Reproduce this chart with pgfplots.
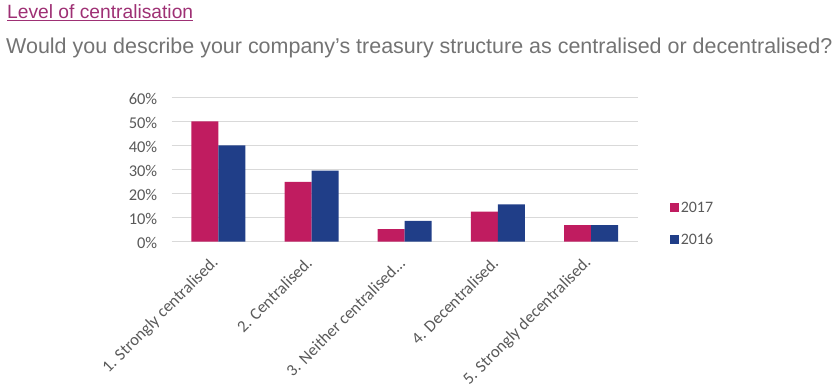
\documentclass[border=0pt]{standalone}
\usepackage{pgfplots}
\pgfplotsset{compat=1.18}
\usepackage{fontspec}
\setmainfont{Liberation Sans}
\newfontfamily\calib{Carlito}
\definecolor{pinkbar}{RGB}{192,28,96}
\definecolor{bluebar}{RGB}{32,62,136}
\definecolor{titlepink}{RGB}{158,48,116}
\definecolor{titlegray}{RGB}{115,115,115}
\definecolor{ticklab}{RGB}{89,89,89}
\definecolor{gridc}{RGB}{217,217,217}
\newcommand\neitherlab{3. Neither centralised...}
\begin{document}
\begin{tikzpicture}[x=1bp,y=1bp]
\path[use as bounding box] (0,0) rectangle (838,-391);
\node[anchor=base west, inner sep=0, text=titlepink, font=\fontsize{19.3}{22}\selectfont] at (7,-18.5) {\underline{Level of centralisation}};
\node[anchor=base west, inner sep=0, text=titlegray, font=\fontsize{21.55}{24}\selectfont] at (6,-53.3) {Would you describe your company’s treasury structure as centralised or decentralised?};
\begin{axis}[
  at={(171.7bp,-241.7bp)}, anchor=south west,
  scale only axis, width=466bp, height=144.4bp,
  ybar=0pt, bar width=27bp,
  xmin=-0.5, xmax=4.5, ymin=0, ymax=60,
  xtick={0,1,2,3,4},
  xticklabels={1. Strongly centralised.,2. Centralised.,\neitherlab,4. Decentralised.,5. Strongly decentralised.},
  ytick={0,10,20,30,40,50,60},
  yticklabel={\pgfmathprintnumber{\tick}\%},
  ymajorgrids, grid style={gridc, line width=1.5bp},
  axis line style={draw=none},
  major tick length=0pt,
  tick style={draw=none},
  yticklabel style={text=ticklab, font=\calib\fontsize{16.5}{19}\selectfont, xshift=-11bp, yshift=-1.5bp},
  xticklabel style={text=ticklab, font=\calib\fontsize{16.8}{19}\selectfont, rotate=45, anchor=east},
  xticklabel shift=16bp,
  /pgf/number format/assume math mode=true,
  legend style={at={(1.062,0.1226)}, anchor=west, draw=none, fill=none,
    font=\calib\fontsize{16}{18}\selectfont, text=ticklab, row sep=16bp,
    legend cell align=left},
  legend image code/.code={\fill[#1] (-2bp,-4.5bp) rectangle (7bp,4.5bp);},
]
\addplot[fill=pinkbar, draw=none] coordinates {(0,50) (1,24.9) (2,5.2) (3,12.5) (4,6.9)};
\addplot[fill=bluebar, draw=none] coordinates {(0,40) (1,29.5) (2,8.7) (3,15.5) (4,6.9)};
\legend{2017,2016}
\end{axis}
\end{tikzpicture}
\end{document}
